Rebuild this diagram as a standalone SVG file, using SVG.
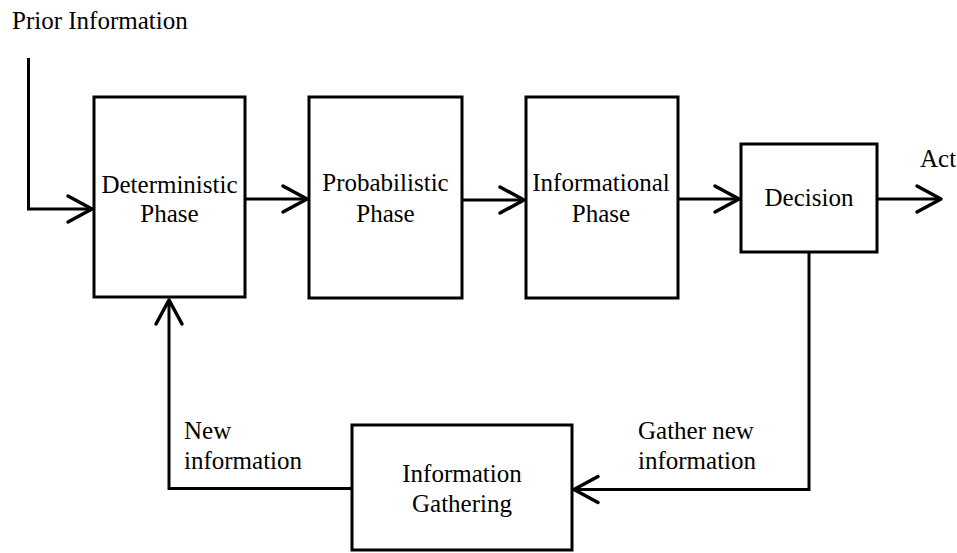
<svg xmlns="http://www.w3.org/2000/svg" width="957" height="553" viewBox="0 0 957 553">
<style>
.box{fill:#fff;stroke:#000;stroke-width:3}
.ln{fill:none;stroke:#000;stroke-width:3;marker-end:url(#ah)}
.t{font-family:'Liberation Serif','Times New Roman','DejaVu Serif',serif;font-size:25px;fill:#000}
.c{text-anchor:middle}
</style>
<defs>
<marker id="ah" markerUnits="userSpaceOnUse" viewBox="-30 -16 34 32" markerWidth="34" markerHeight="32" refX="0" refY="0" orient="auto">
<path d="M-24,-13 L0,0 L-24,13" fill="none" stroke="#000" stroke-width="3.5" stroke-linejoin="round" stroke-linecap="round"/>
</marker>
</defs>
<rect width="957" height="553" fill="#fff"/>
<g id="connectors">
<path class="ln" d="M28.5,58 V209 H92"/>
<path class="ln" d="M245,199 H307"/>
<path class="ln" d="M462,200 H524"/>
<path class="ln" d="M678,199 H739"/>
<path class="ln" d="M877,199 H941"/>
<path class="ln" d="M809,252 V489.5 H574"/>
<path class="ln" d="M352,488.5 H169 V300"/>
</g>
<text class="t" x="12" y="29">Prior Information</text>
<g id="deterministic">
<rect class="box" x="94" y="97" width="151" height="200"/>
<text class="t c" x="169.5" y="193">Deterministic</text>
<text class="t c" x="169.5" y="222">Phase</text>
</g>
<g id="probabilistic">
<rect class="box" x="309" y="97" width="153" height="201"/>
<text class="t c" x="385.5" y="191">Probabilistic</text>
<text class="t c" x="385.5" y="222">Phase</text>
</g>
<g id="informational">
<rect class="box" x="526" y="97" width="152" height="201"/>
<text class="t c" x="601" y="191">Informational</text>
<text class="t c" x="601" y="222">Phase</text>
</g>
<g id="decision">
<rect class="box" x="741" y="144" width="136" height="108"/>
<text class="t c" x="809" y="206">Decision</text>
</g>
<text class="t" x="920" y="167">Act</text>
<g id="gathering">
<rect class="box" x="352" y="425" width="220" height="125"/>
<text class="t c" x="462" y="482">Information</text>
<text class="t c" x="462" y="512">Gathering</text>
</g>
<text class="t" x="184" y="439">New</text>
<text class="t" x="184" y="469">information</text>
<text class="t" x="638" y="439">Gather new</text>
<text class="t" x="638" y="469">information</text>
</svg>
